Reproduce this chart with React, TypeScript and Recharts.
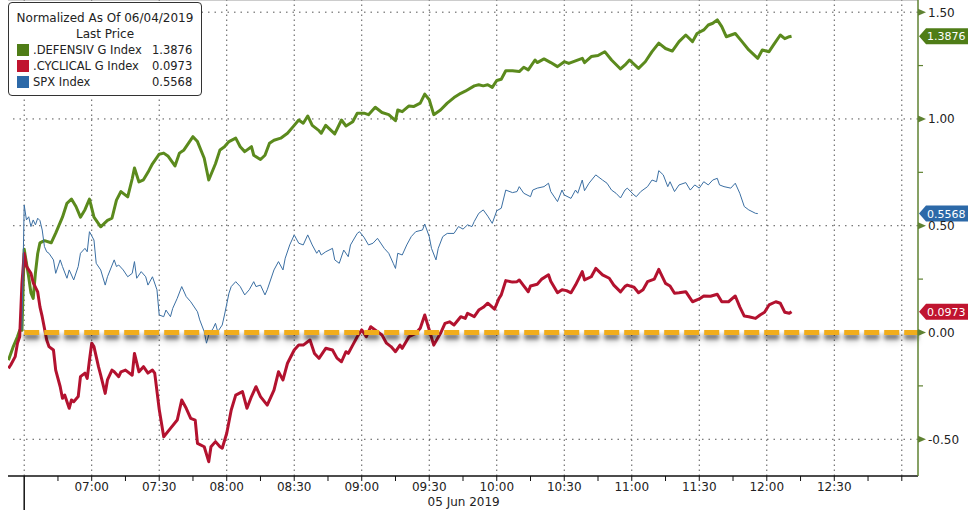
import React from 'react';
import { LineChart, Line, XAxis, YAxis, ReferenceLine } from 'recharts';

// normalized moves: [time, value]
const DEFENSIV: [string, number][] = [
  ['06:23', -0.13], ['06:25', -0.07], ['06:27', -0.02], ['06:28', 0.01], ['06:29', 0.01], ['06:30', 0.39],
  ['06:32', 0.26], ['06:33', 0.185], ['06:34', 0.16], ['06:35', 0.28], ['06:36', 0.37], ['06:37', 0.42],
  ['06:39', 0.43], ['06:42', 0.42], ['06:44', 0.465], ['06:47', 0.54], ['06:49', 0.605], ['06:51', 0.625],
  ['06:53', 0.59], ['06:55', 0.54], ['06:57', 0.575], ['06:59', 0.625], ['07:01', 0.54], ['07:04', 0.495],
  ['07:07', 0.525], ['07:09', 0.535], ['07:11', 0.62], ['07:13', 0.66], ['07:16', 0.635], ['07:18', 0.72],
  ['07:19', 0.77], ['07:21', 0.705], ['07:23', 0.715], ['07:25', 0.75], ['07:27', 0.79], ['07:30', 0.835],
  ['07:32', 0.84], ['07:34', 0.825], ['07:37', 0.78], ['07:39', 0.84], ['07:41', 0.855], ['07:45', 0.917],
  ['07:47', 0.894], ['07:50', 0.816], ['07:52', 0.714], ['07:55', 0.79], ['07:57', 0.855], ['07:59', 0.87],
  ['08:01', 0.894], ['08:04', 0.91], ['08:06', 0.87], ['08:08', 0.847], ['08:11', 0.87], ['08:12', 0.83],
  ['08:15', 0.81], ['08:17', 0.83], ['08:19', 0.886], ['08:21', 0.9], ['08:24', 0.91], ['08:27', 0.933],
  ['08:30', 0.97], ['08:32', 0.995], ['08:34', 0.98], ['08:36', 1.014], ['08:38', 0.97], ['08:41', 0.945],
  ['08:42', 0.933], ['08:44', 0.97], ['08:46', 0.95], ['08:48', 0.93], ['08:51', 0.995], ['08:53', 0.967],
  ['08:56', 0.987], ['08:58', 1.027], ['09:01', 1.027], ['09:03', 1.02], ['09:06', 1.055], ['09:09', 1.03],
  ['09:12', 1.02], ['09:15', 0.992], ['09:16', 1.042], ['09:18', 1.034], ['09:21', 1.061], ['09:23', 1.058],
  ['09:26', 1.074], ['09:28', 1.116], ['09:30', 1.09], ['09:32', 1.02], ['09:35', 1.042], ['09:38', 1.074],
  ['09:41', 1.1], ['09:44', 1.12], ['09:46', 1.13], ['09:50', 1.155], ['09:52', 1.16], ['09:54', 1.155],
  ['09:56', 1.16], ['09:58', 1.148], ['10:00', 1.18], ['10:02', 1.186], ['10:04', 1.226], ['10:07', 1.226],
  ['10:10', 1.222], ['10:12', 1.242], ['10:14', 1.23], ['10:17', 1.276], ['10:18', 1.264], ['10:21', 1.281],
  ['10:24', 1.264], ['10:27', 1.245], ['10:30', 1.268], ['10:32', 1.26], ['10:35', 1.272], ['10:38', 1.284],
  ['10:39', 1.264], ['10:42', 1.292], ['10:45', 1.297], ['10:48', 1.315], ['10:51', 1.276], ['10:55', 1.234],
  ['10:57', 1.253], ['10:59', 1.276], ['11:03', 1.237], ['11:06', 1.268], ['11:09', 1.315], ['11:12', 1.355],
  ['11:15', 1.33], ['11:18', 1.318], ['11:21', 1.362], ['11:24', 1.393], ['11:27', 1.362], ['11:29', 1.4],
  ['11:32', 1.417], ['11:34', 1.44], ['11:36', 1.448], ['11:38', 1.464], ['11:40', 1.432], ['11:42', 1.385],
  ['11:46', 1.4], ['11:49', 1.362], ['11:52', 1.323], ['11:56', 1.284], ['11:58', 1.323], ['12:01', 1.315],
  ['12:03', 1.347], ['12:06', 1.393], ['12:08', 1.376], ['12:10', 1.385], ['12:11', 1.3876],
];

const CYCLICAL: [string, number][] = [
  ['06:23', -0.168], ['06:24', -0.152], ['06:26', -0.113], ['06:27', -0.05], ['06:28', -0.02], ['06:29', 0.23],
  ['06:30', 0.37], ['06:31', 0.31], ['06:33', 0.277], ['06:34', 0.233], ['06:36', 0.19], ['06:37', 0.12],
  ['06:38', 0.074], ['06:40', -0.035], ['06:41', -0.066], ['06:43', -0.082], ['06:44', -0.176], ['06:46', -0.254],
  ['06:47', -0.308], ['06:48', -0.293], ['06:50', -0.355], ['06:51', -0.316], ['06:52', -0.324], ['06:54', -0.3],
  ['06:55', -0.207], ['06:57', -0.19], ['06:58', -0.215], ['06:59', -0.13], ['07:00', -0.05], ['07:01', -0.066],
  ['07:03', -0.16], ['07:04', -0.2], ['07:06', -0.285], ['07:07', -0.222], ['07:09', -0.176], ['07:10', -0.184],
  ['07:12', -0.207], ['07:13', -0.184], ['07:15', -0.176], ['07:18', -0.2], ['07:19', -0.098], ['07:21', -0.184],
  ['07:23', -0.16], ['07:25', -0.19], ['07:27', -0.176], ['07:28', -0.19], ['07:30', -0.36], ['07:32', -0.488],
  ['07:35', -0.449], ['07:38', -0.41], ['07:40', -0.316], ['07:42', -0.355], ['07:44', -0.402], ['07:46', -0.41],
  ['07:47', -0.519], ['07:50', -0.535], ['07:52', -0.605], ['07:53', -0.535], ['07:55', -0.511], ['07:57', -0.535],
  ['07:58', -0.542], ['08:00', -0.472], ['08:02', -0.363], ['08:04', -0.293], ['08:07', -0.277], ['08:09', -0.355],
  ['08:11', -0.3], ['08:13', -0.254], ['08:15', -0.3], ['08:18', -0.34], ['08:21', -0.27], ['08:23', -0.184],
  ['08:25', -0.222], ['08:27', -0.144], ['08:30', -0.082], ['08:32', -0.059], ['08:34', -0.059], ['08:37', -0.035],
  ['08:39', -0.098], ['08:41', -0.121], ['08:44', -0.074], ['08:47', -0.082], ['08:49', -0.12], ['08:51', -0.137],
  ['08:53', -0.09], ['08:54', -0.098], ['08:56', -0.059], ['08:58', -0.02], ['09:00', 0.012], ['09:02', -0.02],
  ['09:04', 0.027], ['09:07', 0.004], ['09:09', -0.012], ['09:11', -0.05], ['09:13', -0.066], ['09:15', -0.09],
  ['09:17', -0.059], ['09:18', -0.074], ['09:21', -0.02], ['09:24', -0.004], ['09:26', 0.02], ['09:28', 0.082],
  ['09:30', 0.012], ['09:32', -0.059], ['09:35', -0.004], ['09:37', 0.043], ['09:39', 0.05], ['09:41', 0.035],
  ['09:44', 0.074], ['09:46', 0.066], ['09:47', 0.09], ['09:50', 0.074], ['09:52', 0.105], ['09:54', 0.118],
  ['09:56', 0.137], ['09:59', 0.109], ['10:01', 0.16], ['10:02', 0.176], ['10:04', 0.243], ['10:07', 0.236],
  ['10:09', 0.238], ['10:10', 0.246], ['10:12', 0.218], ['10:14', 0.191], ['10:15', 0.218], ['10:18', 0.226],
  ['10:20', 0.25], ['10:23', 0.27], ['10:24', 0.24], ['10:27', 0.186], ['10:29', 0.2], ['10:31', 0.196],
  ['10:33', 0.186], ['10:35', 0.222], ['10:38', 0.285], ['10:39', 0.246], ['10:42', 0.261], ['10:44', 0.3],
  ['10:47', 0.27], ['10:50', 0.254], ['10:52', 0.222], ['10:55', 0.19], ['10:57', 0.216], ['10:58', 0.222],
  ['11:01', 0.212], ['11:03', 0.186], ['11:05', 0.2], ['11:07', 0.238], ['11:10', 0.25], ['11:12', 0.296],
  ['11:15', 0.23], ['11:17', 0.218], ['11:19', 0.184], ['11:21', 0.186], ['11:24', 0.191], ['11:26', 0.16],
  ['11:27', 0.144], ['11:30', 0.157], ['11:32', 0.171], ['11:35', 0.17], ['11:38', 0.179], ['11:40', 0.144],
  ['11:43', 0.144], ['11:46', 0.171], ['11:48', 0.12], ['11:50', 0.077], ['11:52', 0.074], ['11:55', 0.066],
  ['11:57', 0.082], ['11:59', 0.095], ['12:01', 0.129], ['12:04', 0.144], ['12:06', 0.137], ['12:08', 0.095],
  ['12:10', 0.09], ['12:11', 0.0973],
];

const SPX: [string, number][] = [
  ['06:29', 0.012], ['06:30', 0.597], ['06:31', 0.527], ['06:32', 0.542], ['06:33', 0.496], ['06:34', 0.527],
  ['06:35', 0.504], ['06:36', 0.535], ['06:37', 0.524], ['06:38', 0.48], ['06:39', 0.402], ['06:40', 0.378],
  ['06:41', 0.371], ['06:43', 0.34], ['06:44', 0.277], ['06:46', 0.34], ['06:47', 0.309], ['06:49', 0.254],
  ['06:50', 0.293], ['06:52', 0.246], ['06:54', 0.309], ['06:55', 0.371], ['06:57', 0.394], ['06:58', 0.378],
  ['06:59', 0.472], ['07:01', 0.433], ['07:02', 0.324], ['07:04', 0.293], ['07:06', 0.222], ['07:07', 0.261],
  ['07:10', 0.34], ['07:11', 0.309], ['07:12', 0.316], ['07:14', 0.293], ['07:16', 0.261], ['07:18', 0.277],
  ['07:19', 0.332], ['07:20', 0.254], ['07:22', 0.285], ['07:24', 0.261], ['07:25', 0.222], ['07:27', 0.261],
  ['07:29', 0.2], ['07:30', 0.082], ['07:32', 0.074], ['07:33', 0.105], ['07:35', 0.074], ['07:36', 0.113],
  ['07:38', 0.16], ['07:40', 0.215], ['07:42', 0.168], ['07:44', 0.144], ['07:47', 0.097], ['07:48', 0.059],
  ['07:50', 0.004], ['07:51', -0.05], ['07:52', -0.012], ['07:54', 0.02], ['07:55', 0.043], ['07:56', 0.004],
  ['07:58', 0.035], ['07:59', 0.082], ['08:01', 0.184], ['08:02', 0.215], ['08:04', 0.238], ['08:06', 0.215],
  ['08:08', 0.176], ['08:10', 0.2], ['08:12', 0.238], ['08:13', 0.215], ['08:15', 0.222], ['08:17', 0.176],
  ['08:18', 0.2], ['08:21', 0.293], ['08:23', 0.332], ['08:25', 0.293], ['08:26', 0.348], ['08:28', 0.41],
  ['08:30', 0.457], ['08:32', 0.418], ['08:34', 0.41], ['08:36', 0.457], ['08:38', 0.41], ['08:40', 0.371],
  ['08:41', 0.386], ['08:42', 0.363], ['08:44', 0.378], ['08:47', 0.394], ['08:48', 0.34], ['08:50', 0.324],
  ['08:52', 0.386], ['08:54', 0.355], ['08:55', 0.41], ['08:58', 0.464], ['08:59', 0.472], ['09:01', 0.446],
  ['09:03', 0.41], ['09:05', 0.418], ['09:07', 0.441], ['09:10', 0.394], ['09:12', 0.371], ['09:14', 0.324],
  ['09:15', 0.3], ['09:16', 0.371], ['09:18', 0.363], ['09:20', 0.41], ['09:22', 0.449], ['09:24', 0.472],
  ['09:27', 0.48], ['09:28', 0.508], ['09:30', 0.449], ['09:31', 0.394], ['09:33', 0.34], ['09:34', 0.394],
  ['09:36', 0.449], ['09:38', 0.464], ['09:41', 0.464], ['09:43', 0.496], ['09:45', 0.484], ['09:47', 0.504],
  ['09:49', 0.496], ['09:50', 0.52], ['09:52', 0.558], ['09:54', 0.574], ['09:56', 0.545], ['09:58', 0.511],
  ['10:00', 0.57], ['10:02', 0.582], ['10:04', 0.667], ['10:07', 0.655], ['10:09', 0.66], ['10:10', 0.683],
  ['10:12', 0.652], ['10:15', 0.636], ['10:16', 0.667], ['10:18', 0.676], ['10:21', 0.683], ['10:23', 0.699],
  ['10:24', 0.66], ['10:27', 0.613], ['10:29', 0.667], ['10:30', 0.644], ['10:33', 0.628], ['10:35', 0.667],
  ['10:36', 0.652], ['10:38', 0.714], ['10:39', 0.664], ['10:41', 0.699], ['10:44', 0.738], ['10:47', 0.714],
  ['10:49', 0.699], ['10:51', 0.667], ['10:53', 0.652], ['10:55', 0.63], ['10:57', 0.667], ['10:58', 0.676],
  ['11:01', 0.644], ['11:02', 0.636], ['11:04', 0.66], ['11:07', 0.683], ['11:09', 0.714], ['11:11', 0.706],
  ['11:12', 0.758], ['11:14', 0.738], ['11:16', 0.683], ['11:17', 0.706], ['11:19', 0.66], ['11:21', 0.691],
  ['11:24', 0.702], ['11:26', 0.667], ['11:28', 0.691], ['11:30', 0.676], ['11:32', 0.706], ['11:34', 0.691],
  ['11:36', 0.714], ['11:38', 0.722], ['11:39', 0.691], ['11:41', 0.683], ['11:44', 0.676], ['11:46', 0.699],
  ['11:48', 0.652], ['11:50', 0.59], ['11:52', 0.574], ['11:55', 0.558], ['11:56', 0.5568],
];

const LEGEND_TITLE = 'Normalized As Of 06/04/2019';
const LEGEND_SUB = 'Last Price';
const DATE_LABEL = '05 Jun 2019';

const MAJOR_TIMES = ['06:30', '07:00', '07:30', '08:00', '08:30', '09:00', '09:30', '10:00', '10:30', '11:00', '11:30', '12:00', '12:30', '13:00'];
const LABELLED_TIMES = ['07:00', '07:30', '08:00', '08:30', '09:00', '09:30', '10:00', '10:30', '11:00', '11:30', '12:00', '12:30'];
const Y_MAJOR = [-0.5, 0, 0.5, 1, 1.5];
const Y_MINOR = [-0.25, 0.25, 0.75, 1.25];

const FONT = '"DejaVu Sans", Verdana, sans-serif';
const AXIS_GREEN = '#5f8232';

const toMin = (s: string) => {
  const [h, m] = s.split(':').map(Number);
  return h * 60 + m;
};
const fmt = (v: number) =>
  `${String(Math.floor(v / 60)).padStart(2, '0')}:${String(v % 60).padStart(2, '0')}`;
const rows = (pts: [string, number][]) => pts.map(([t, v]) => ({ t: toMin(t), v }));

const SERIES = [
  { name: '.DEFENSIV G Index', data: rows(DEFENSIV), color: '#5b8a1d', flag: '#4f7d17', width: 3 },
  { name: '.CYCLICAL G Index', data: rows(CYCLICAL), color: '#b3122f', flag: '#c0142f', width: 3 },
  { name: 'SPX Index', data: rows(SPX), color: '#3b6fa3', flag: '#2c69a8', width: 1 },
];

const majorMins = MAJOR_TIMES.map(toMin);
const labelled = new Set(LABELLED_TIMES.map(toMin));
const xTicks: number[] = [];
for (let t = majorMins[0]; t <= majorMins[majorMins.length - 1]; t += 15) xTicks.push(t);
const yTicks = [...Y_MAJOR, ...Y_MINOR].sort((a, b) => a - b);

const XTick = (p: any) => {
  const { x, y, payload } = p;
  const v = payload.value as number;
  const first = v === majorMins[0];
  return (
    <g>
      <line x1={x} y1={y} x2={x} y2={y + (first ? 34 : 5)} stroke="#111" strokeWidth={first ? 1.5 : 1} />
      {labelled.has(v) && (
        <text x={x} y={y + 15} textAnchor="middle" fontSize={12} fontFamily={FONT} fill="#222">
          {fmt(v)}
        </text>
      )}
      {v === toMin('10:00') && (
        <text x={x + 3} y={y + 30} textAnchor="end" fontSize={12} fontFamily={FONT} fill="#222">
          {DATE_LABEL}
        </text>
      )}
    </g>
  );
};

const YTick = (p: any) => {
  const { x, y, payload } = p;
  const v = payload.value as number;
  if (!Y_MAJOR.includes(v)) {
    return <line x1={x} y1={y} x2={x + 5} y2={y} stroke={AXIS_GREEN} strokeWidth={1.2} />;
  }
  return (
    <g>
      <polygon points={`${x},${y - 3.5} ${x + 8},${y} ${x},${y + 3.5}`} fill={AXIS_GREEN} />
      <text x={x + 10} y={y + 4.5} fontSize={12} fontFamily={FONT} fill="#222">
        {v.toFixed(2)}
      </text>
    </g>
  );
};

const Flag = (p: any) => {
  const { viewBox, color, text } = p;
  if (!viewBox) return null;
  const x = viewBox.x + viewBox.width;
  const y = viewBox.y;
  return (
    <g>
      <polygon
        points={`${x + 1},${y} ${x + 8},${y - 8} ${x + 50},${y - 8} ${x + 50},${y + 8} ${x + 8},${y + 8}`}
        fill={color}
      />
      <text x={x + 9} y={y + 4} fontSize={11} fontFamily={FONT} fill="#fff">
        {text}
      </text>
    </g>
  );
};

export default function App() {
  return (
    <div style={{ position: 'absolute', left: 0, top: 0, width: 976, height: 514, background: '#fff' }}>
      <style>{'.zero-line, .zero-line line { filter: drop-shadow(0px 4px 2px rgba(0,0,0,0.35)); }'}</style>
      <LineChart width={976} height={514} margin={{ top: 0, right: 0, bottom: 0, left: 8 }}>
        <XAxis
          dataKey="t"
          type="number"
          domain={[382.8, 787.2]}
          allowDataOverflow
          ticks={xTicks}
          interval={0}
          height={38}
          tickLine={false}
          tickSize={0}
          tickMargin={0}
          axisLine={{ stroke: '#111', strokeWidth: 1.5 }}
          tick={(p: any) => <XTick {...p} />}
        />
        <YAxis
          orientation="right"
          type="number"
          domain={[-0.672, 1.557]}
          allowDataOverflow
          ticks={yTicks}
          interval={0}
          width={58}
          tickLine={false}
          tickSize={0}
          tickMargin={0}
          axisLine={{ stroke: AXIS_GREEN, strokeWidth: 1.5 }}
          tick={(p: any) => <YTick {...p} />}
        />
        {majorMins.map((t) => (
          <ReferenceLine key={`vx${t}`} x={t} stroke="#555" strokeDasharray="1.5 3.5" />
        ))}
        {Y_MAJOR.filter((v) => v !== 0).map((v) => (
          <ReferenceLine key={`hy${v}`} y={v} stroke="#555" strokeDasharray="1.5 5" />
        ))}
        <ReferenceLine y={1.557} stroke="#999" strokeWidth={1} />
        {SERIES.map((s) => (
          <Line
            key={s.name}
            data={s.data}
            dataKey="v"
            type="linear"
            stroke={s.color}
            strokeWidth={s.width}
            strokeLinejoin="round"
            dot={false}
            activeDot={false}
            isAnimationActive={false}
          />
        ))}
        <ReferenceLine
          className="zero-line"
          segment={[{ x: majorMins[0], y: 0 }, { x: 787.2, y: 0 }]}
          stroke="#f1ad1b"
          strokeWidth={5}
          strokeDasharray="15 5"
        />
        {SERIES.map((s) => {
          const last = s.data[s.data.length - 1].v;
          return (
            <ReferenceLine
              key={`flag${s.name}`}
              y={last}
              stroke="none"
              label={<Flag color={s.flag} text={last.toFixed(4)} />}
            />
          );
        })}
      </LineChart>
      <div
        style={{
          position: 'absolute',
          left: 8,
          top: 2,
          width: 192,
          height: 92,
          border: '1px solid #333',
          borderRadius: 4,
          background: '#fff',
          fontFamily: FONT,
          fontSize: 12,
          color: '#222',
          lineHeight: '16px',
          boxSizing: 'content-box',
        }}
      >
        <div style={{ textAlign: 'center', marginTop: 7 }}>{LEGEND_TITLE}</div>
        <div style={{ textAlign: 'center' }}>{LEGEND_SUB}</div>
        {SERIES.map((s) => (
          <div key={s.name} style={{ position: 'relative', height: 16, fontSize: 11.5 }}>
            <span
              style={{ position: 'absolute', left: 8, top: 2, width: 12, height: 12, background: s.flag }}
            />
            <span style={{ position: 'absolute', left: 24, top: 0, whiteSpace: 'nowrap' }}>{s.name}</span>
            <span style={{ position: 'absolute', left: 143, top: 0 }}>
              {s.data[s.data.length - 1].v.toFixed(4)}
            </span>
          </div>
        ))}
      </div>
    </div>
  );
}
